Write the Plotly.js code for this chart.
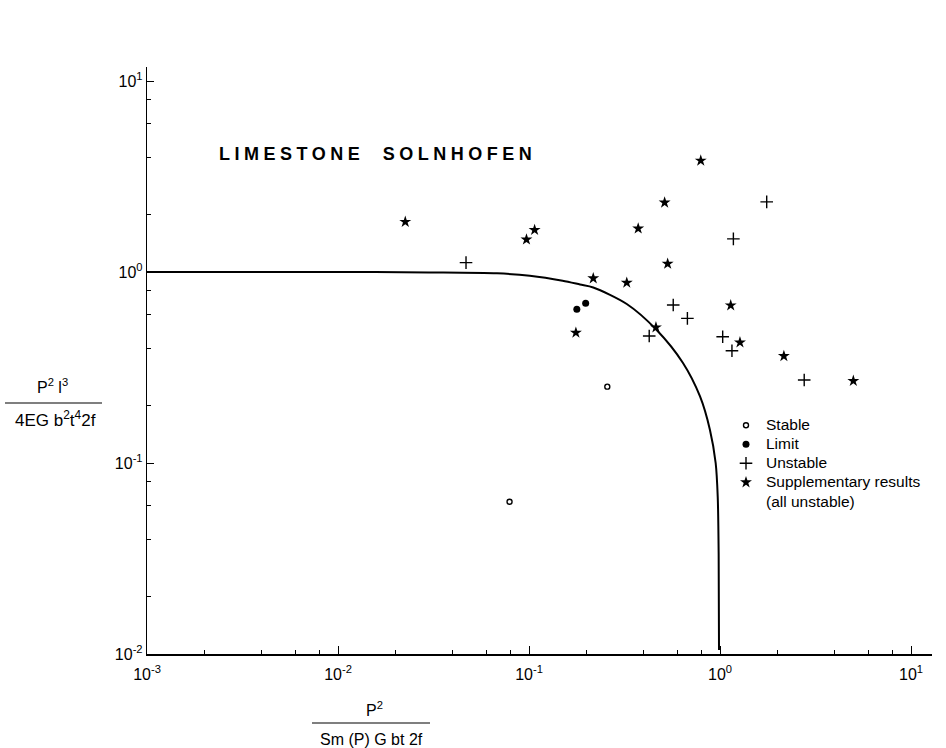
<!DOCTYPE html>
<html>
<head>
<meta charset="utf-8">
<script src="https://cdn.plot.ly/plotly-3.0.1.min.js"></script>
<style>
  html, body { margin: 0; padding: 0; background: #fff; }
  #chart { width: 946px; height: 748px; }
  text.annotation-text[data-unformatted="LIMESTONE SOLNHOFEN"] { letter-spacing: 4.5px; word-spacing: 9px; }
  text.legendtext { font-size: 15.5px !important; }
</style>
</head>
<body>
<div id="chart"></div>
<script>
// ---- data ----
const stableX = [0.257, 0.0791];
const stableY = [0.251, 0.0627];

const limitX = [0.178, 0.198];
const limitY = [0.638, 0.686];

const unstableX = [0.0468, 0.426, 0.569, 0.675, 1.033, 1.155, 1.175, 1.756, 2.76, 7.05];
const unstableY = [1.12, 0.462, 0.672, 0.572, 0.458, 0.387, 1.49, 2.33, 0.272, 12.57];

const suppX = [0.0225, 0.097, 0.107, 0.176, 0.217, 0.325, 0.373, 0.462, 0.513, 0.532, 0.793, 1.138, 1.272, 2.16, 3.52, 4.99];
const suppY = [1.83, 1.48, 1.66, 0.481, 0.927, 0.879, 1.69, 0.513, 2.31, 1.105, 3.83, 0.669, 0.428, 0.363, 22.4, 0.269];

// theoretical boundary curve
const curveX = [0.001, 0.01, 0.03, 0.068, 0.101, 0.15, 0.185, 0.217, 0.325, 0.466, 0.64, 0.786, 0.886, 0.949, 0.973, 0.984, 0.988];
const curveY = [1.0, 1.0, 0.995, 0.984, 0.956, 0.9, 0.86, 0.83, 0.68, 0.497, 0.334, 0.223, 0.149, 0.1, 0.0665, 0.0334, 0.0105];

const xTickVals = [0.001, 0.01, 0.1, 1, 10];
const xTickText = ['10<sup>-3</sup>', '10<sup>-2</sup>', '10<sup>-1</sup>', '10<sup>0</sup>', '10<sup>1</sup>'];
const yTickVals = [0.01, 0.1, 1, 10];
const yTickText = ['10<sup>-2</sup>', '10<sup>-1</sup>', '10<sup>0</sup>', '10<sup>1</sup>'];
const xMinorVals = [0.002, 0.004, 0.006, 0.008, 0.02, 0.04, 0.06, 0.08, 0.2, 0.4, 0.6, 0.8, 2, 4, 6, 8];
const yMinorVals = [0.02, 0.04, 0.06, 0.08, 0.2, 0.4, 0.6, 0.8, 2, 4, 6, 8];

const titleText = 'LIMESTONE SOLNHOFEN';
const legendNames = ['Stable', 'Limit', 'Unstable', 'Supplementary results<br>(all unstable)'];

const FONT = 'Liberation Sans, Arial, Helvetica, sans-serif';

const traces = [
  {
    x: curveX, y: curveY, type: 'scatter', mode: 'lines',
    line: { color: '#000', width: 2, shape: 'spline', smoothing: 0.8 },
    showlegend: false, hoverinfo: 'skip'
  },
  {
    x: stableX, y: stableY, type: 'scatter', mode: 'markers', name: legendNames[0],
    marker: { symbol: 'circle-open', size: 5, color: '#000', line: { width: 1.4, color: '#000' } },
    cliponaxis: false
  },
  {
    x: limitX, y: limitY, type: 'scatter', mode: 'markers', name: legendNames[1],
    marker: { symbol: 'circle', size: 7, color: '#000' },
    cliponaxis: false
  },
  {
    x: unstableX, y: unstableY, type: 'scatter', mode: 'markers', name: legendNames[2],
    marker: { symbol: 'cross-thin-open', size: 9, color: '#000', line: { width: 1.4, color: '#000' } },
    cliponaxis: false
  },
  {
    x: suppX, y: suppY, type: 'scatter', mode: 'markers', name: legendNames[3],
    marker: { symbol: 'star', size: 9, color: '#000', line: { width: 0 } },
    cliponaxis: false
  }
];

const L = 147, R = 14, T = 67, B = 94;
const W = 946 - L - R, H = 748 - T - B;
const px = v => (v - L) / W;          // page x -> paper x (for titles only)
const py = v => (748 - B - v) / H;    // page y -> paper y

const layout = {
  width: 946, height: 748,
  margin: { l: L, r: R, t: T, b: B, pad: 0 },
  paper_bgcolor: '#fff', plot_bgcolor: '#fff',
  font: { family: FONT, color: '#000', size: 14 },
  showlegend: true,
  legend: {
    x: px(726), y: py(411), xanchor: 'left', yanchor: 'top',
    bgcolor: 'rgba(0,0,0,0)', borderwidth: 0,
    font: { family: FONT, size: 12, color: '#000' },
    itemwidth: 30, valign: 'top', tracegroupgap: 0
  },
  xaxis: {
    type: 'log', range: [-3, -3 + W / 191],
    showgrid: false, zeroline: false,
    showline: true, linecolor: '#000', linewidth: 1.5,
    ticks: 'inside', ticklen: 8, tickwidth: 1, tickcolor: '#000',
    tickmode: 'array', tickvals: xTickVals, ticktext: xTickText,
    tickfont: { family: FONT, size: 16, color: '#000' },
    ticklabelstandoff: 5,
    minor: { tickmode: 'array', tickvals: xMinorVals, ticks: 'inside', ticklen: 4, tickwidth: 1, tickcolor: '#000', showgrid: false },
    mirror: false, fixedrange: true
  },
  yaxis: {
    type: 'log', range: [-2, -2 + H / 191],
    showgrid: false, zeroline: false,
    showline: true, linecolor: '#000', linewidth: 1.2,
    ticks: 'inside', ticklen: 7, tickwidth: 1, tickcolor: '#000',
    tickmode: 'array', tickvals: yTickVals, ticktext: yTickText,
    tickfont: { family: FONT, size: 16, color: '#000' },
    minor: { tickmode: 'array', tickvals: yMinorVals, ticks: 'inside', ticklen: 4, tickwidth: 1, tickcolor: '#000', showgrid: false },
    mirror: false, fixedrange: true
  },
  annotations: [
    { text: titleText, xref: 'paper', yref: 'paper', x: px(217), y: py(154),
      xanchor: 'left', yanchor: 'middle', showarrow: false,
      font: { family: FONT, size: 18, color: '#000', weight: 'bold' } },
    // y-axis title as a fraction
    { text: 'P<sup>2</sup> l<sup>3</sup>', xref: 'paper', yref: 'paper', x: px(52), y: py(386),
      xanchor: 'center', yanchor: 'middle', showarrow: false, font: { family: FONT, size: 16 } },
    { text: '4EG b<sup>2</sup>t<sup>4</sup>2f', xref: 'paper', yref: 'paper', x: px(55), y: py(419),
      xanchor: 'center', yanchor: 'middle', showarrow: false, font: { family: FONT, size: 17 } },
    // x-axis title as a fraction
    { text: 'P<sup>2</sup>', xref: 'paper', yref: 'paper', x: px(374), y: py(709),
      xanchor: 'center', yanchor: 'middle', showarrow: false, font: { family: FONT, size: 16 } },
    { text: 'Sm (P) G bt 2f', xref: 'paper', yref: 'paper', x: px(371), y: py(739),
      xanchor: 'center', yanchor: 'middle', showarrow: false, font: { family: FONT, size: 16 } }
  ],
  shapes: [
    { type: 'line', xref: 'paper', yref: 'paper', x0: px(5), x1: px(102), y0: py(403), y1: py(403),
      line: { color: '#000', width: 1.2 } },
    { type: 'line', xref: 'paper', yref: 'paper', x0: px(312), x1: px(430), y0: py(723), y1: py(723),
      line: { color: '#000', width: 1.2 } }
  ]
};

Plotly.newPlot('chart', traces, layout, { staticPlot: true, displayModeBar: false });
</script>
</body>
</html>
